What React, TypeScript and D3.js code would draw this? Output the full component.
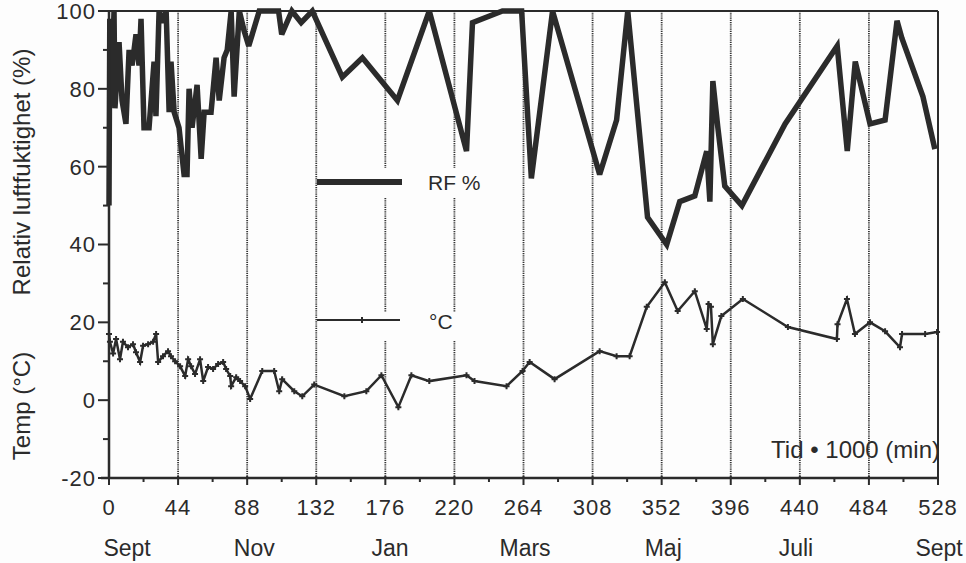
import React from 'react';
import * as d3 from 'd3';

// Relativ luftfuktighet (%) – x in 1000 min
const rfX = [0, 0.5, 1, 2, 3.2, 3.8, 6.4, 8.3, 10.8, 12.8, 14.7, 17.2, 19.1, 20.4, 22.3, 25.5, 28.7, 29.9, 31.9, 33.8, 36.4, 38.3, 39.5, 41.5, 44.6, 47.8, 49.7, 51, 52.9, 56.1, 58.7, 60.6, 65, 68.2, 70.2, 73.3, 75.3, 77.8, 79.7, 83, 86, 89, 95.7, 108, 110, 116.5, 122.4, 129.5, 148.6, 161.4, 183.7, 204, 227.7, 231.5, 250.6, 262.8, 269, 282.5, 312.5, 323.3, 330.4, 343, 355.2, 363.5, 373.1, 380.7, 382.7, 384.6, 387.8, 392.2, 403.1, 430.6, 463.8, 470.2, 475.3, 484.7, 494.3, 501.9, 505, 518.4, 526];
const rfY = [50, 98, 78, 84, 100, 75, 92, 77, 71, 90, 86, 94, 86, 98, 70, 70, 87, 73, 100, 97, 100, 74, 87, 74, 70, 58, 58, 80, 70, 81, 62, 74, 74, 88, 77, 88, 90, 100, 78, 100, 95, 91, 100, 100, 94, 100, 97, 100, 83, 88, 77, 100, 64, 97, 100, 100, 57, 100, 58, 72, 100, 47, 40, 51, 52.5, 64, 51, 82, 70, 55, 50, 71, 91, 64, 87, 71, 72, 97.5, 93, 78, 64.5];

// Temp (°C)
const tempX = [0, 0.6, 2.6, 4.5, 7, 8.9, 12.1, 15.3, 17.2, 19.8, 21.7, 24.9, 28.1, 30, 31.3, 34.4, 37.6, 39.5, 42.1, 45.3, 48.5, 50.4, 52.3, 54.8, 58, 60, 63.1, 66.3, 69.5, 72.7, 74.6, 77.2, 77.8, 81, 83.5, 86.7, 89.9, 97.6, 105.2, 108.4, 110.3, 118, 123.1, 130.7, 149.9, 163.9, 173.5, 184.3, 192.6, 204, 227.7, 232.8, 253.2, 263.4, 267.9, 283.8, 312.5, 323.3, 331.6, 342.5, 354, 362.2, 373.1, 380.7, 381.9, 383.4, 384.6, 390, 403.7, 432.4, 463.6, 464, 470, 475.1, 484.7, 494.3, 503.8, 505.1, 519.8, 527.4];
const tempY = [17, 15, 12, 15.7, 10.5, 15, 13.6, 14.4, 12.3, 9.8, 14, 14.4, 15, 17, 9.8, 11.3, 12.6, 11.3, 10, 8.7, 6.2, 10.5, 8.7, 6.7, 10.5, 4.9, 8.5, 8, 9.3, 9.8, 8, 6.2, 3.6, 5.9, 4.9, 3.6, 0.3, 7.5, 7.5, 2.3, 5.4, 2.3, 1, 4, 1, 2.3, 6.4, -1.8, 6.4, 4.9, 6.4, 4.9, 3.6, 7.5, 9.8, 5.4, 12.6, 11.3, 11.3, 24, 30.3, 22.9, 28, 18.3, 24.7, 24, 14.4, 21.6, 26, 18.8, 15.7, 19.5, 26, 17, 20, 17.7, 13.6, 17, 17, 17.5];

const xTicks = [0, 44, 88, 132, 176, 220, 264, 308, 352, 396, 440, 484, 528];
const xMinor = [22, 66, 110, 154, 198, 242, 286, 330, 374, 418, 462, 506];
const gridX = [44, 88, 132, 176, 220, 264, 308, 352, 396, 440, 484];
const yTicks = [-20, 0, 20, 40, 60, 80, 100];
const yMinor = [-10, 10, 30, 50, 70, 90];
const months = ['Sept', 'Nov', 'Jan', 'Mars', 'Maj', 'Juli', 'Sept'];
const monthPos = [11.5, 92.5, 179, 265, 353, 437.5, 528.7];

const W = 966;
const H = 563;
const ink = '#2b2b2b';
const font = 'Helvetica, Arial, "Liberation Sans", sans-serif';

export default function App() {
  const x = d3.scaleLinear().domain([0, 528]).range([109, 938]);
  const y = d3.scaleLinear().domain([-20, 100]).range([478, 11]);

  const rfData = rfX.map((d, i) => [d, rfY[i]] as [number, number]);
  const tData = tempX.map((d, i) => [d, tempY[i]] as [number, number]);
  const line = d3.line<[number, number]>().x(d => x(d[0])).y(d => y(d[1]));

  const left = x(0);
  const right = x(528);
  const top = y(100);
  const bottom = y(-20);

  return (
    <svg width={W} height={H} style={{ position: 'absolute', left: 0, top: 0, background: '#fdfdfd' }} fontFamily={font}>
      <rect x={0} y={0} width={W} height={H} fill="#fdfdfd" />

      {/* label under the gridlines */}
      <text x={940} y={458} fontSize={24} textAnchor="end" fill={ink}>Tid • 1000 (min)</text>

      {/* dotted month gridlines */}
      {gridX.map(g => (
        <line key={g} x1={x(g)} x2={x(g)} y1={top} y2={bottom} stroke="#333" strokeWidth={1.8} strokeDasharray="1.2,1" />
      ))}

      {/* legend backgrounds */}
      <rect x={319} y={168} width={150} height={30} fill="#fdfdfd" />
      <rect x={319} y={312} width={150} height={28} fill="#fdfdfd" />

      {/* series */}
      <path d={line(rfData) || ''} fill="none" stroke={ink} strokeWidth={5.5} strokeLinejoin="miter" strokeMiterlimit={3} />
      <path d={line(tData) || ''} fill="none" stroke={ink} strokeWidth={2.5} />
      {tData.map((d, i) => (
        <path key={i} d={`M${x(d[0]) - 3},${y(d[1])}h6M${x(d[0])},${y(d[1]) - 3}v6`} stroke={ink} strokeWidth={2} />
      ))}

      {/* legend */}
      <line x1={317} x2={402} y1={182} y2={182} stroke={ink} strokeWidth={6} />
      <text x={428} y={190} fontSize={21} fill={ink}>RF %</text>
      <line x1={317} x2={400} y1={320} y2={320} stroke={ink} strokeWidth={2.2} />
      <path d="M359,320h6M362,317v6" stroke={ink} strokeWidth={2} />
      <text x={429} y={329} fontSize={21} fill={ink}>°C</text>

      {/* frame */}
      <line x1={left} x2={right} y1={top} y2={top} stroke={ink} strokeWidth={2} />
      <line x1={right} x2={right} y1={top} y2={bottom} stroke={ink} strokeWidth={2} />
      <line x1={left} x2={left} y1={top} y2={bottom} stroke={ink} strokeWidth={2.5} />
      <line x1={left - 8} x2={right} y1={bottom} y2={bottom} stroke={ink} strokeWidth={2.5} />

      {/* y axis */}
      {yTicks.map(t => (
        <g key={t}>
          <line x1={left - 11} x2={left} y1={y(t)} y2={y(t)} stroke={ink} strokeWidth={2} />
          <text x={96} y={y(t)} dy="0.36em" fontSize={22} letterSpacing={1} textAnchor="end" fill={ink}>{t}</text>
        </g>
      ))}
      {yMinor.map(t => (
        <line key={t} x1={left - 6} x2={left} y1={y(t)} y2={y(t)} stroke={ink} strokeWidth={2} />
      ))}

      {/* x axis */}
      {xTicks.map(t => (
        <g key={t}>
          <line x1={x(t)} x2={x(t)} y1={bottom - 2} y2={bottom + 7} stroke={ink} strokeWidth={2} />
          <text x={x(t)} y={515} fontSize={22} letterSpacing={1} textAnchor="middle" fill={ink}>{t}</text>
        </g>
      ))}
      {xMinor.map(t => (
        <line key={t} x1={x(t)} x2={x(t)} y1={bottom} y2={bottom + 4} stroke={ink} strokeWidth={2} />
      ))}
      {months.map((m, i) => (
        <text key={i} x={x(monthPos[i])} y={556} fontSize={23} textAnchor="middle" fill={ink}>{m}</text>
      ))}

      {/* axis titles */}
      <text transform="translate(30,172) rotate(-90)" fontSize={24} textAnchor="middle" fill={ink}>Relativ luftfuktighet (%)</text>
      <text transform="translate(30,406) rotate(-90)" fontSize={24} textAnchor="middle" fill={ink}>Temp (°C)</text>
    </svg>
  );
}
